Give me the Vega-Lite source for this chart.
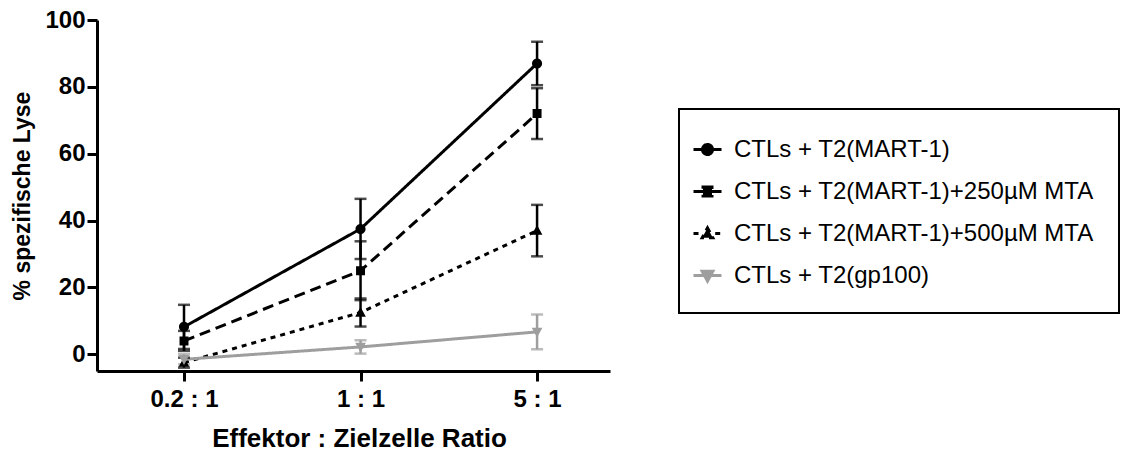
{
  "$schema": "https://vega.github.io/schema/vega-lite/v6.json",
  "width": 513,
  "height": 351,
  "autosize": {"type": "none"},
  "padding": {"left": 97, "top": 20, "right": 516, "bottom": 80},
  "background": "white",
  "config": {"view": {"stroke": null}, "font": "Liberation Sans", "legend": {"strokeWidth": 2}},
  "data": {
    "values": [
      {"ratio": "0.2 : 1", "series": "CTLs + T2(MART-1)", "lysis": 8.2, "sd": 6.6},
      {"ratio": "1 : 1", "series": "CTLs + T2(MART-1)", "lysis": 37.5, "sd": 9.0},
      {"ratio": "5 : 1", "series": "CTLs + T2(MART-1)", "lysis": 87.0, "sd": 6.5},
      {"ratio": "0.2 : 1", "series": "CTLs + T2(MART-1)+250µM MTA", "lysis": 4.0, "sd": 3.0},
      {"ratio": "1 : 1", "series": "CTLs + T2(MART-1)+250µM MTA", "lysis": 25.0, "sd": 8.8},
      {"ratio": "5 : 1", "series": "CTLs + T2(MART-1)+250µM MTA", "lysis": 72.0, "sd": 7.6},
      {"ratio": "0.2 : 1", "series": "CTLs + T2(MART-1)+500µM MTA", "lysis": -2.5, "sd": 1.5},
      {"ratio": "1 : 1", "series": "CTLs + T2(MART-1)+500µM MTA", "lysis": 12.5, "sd": 4.2},
      {"ratio": "5 : 1", "series": "CTLs + T2(MART-1)+500µM MTA", "lysis": 37.0, "sd": 7.7},
      {"ratio": "0.2 : 1", "series": "CTLs + T2(gp100)", "lysis": -1.5, "sd": 1.5},
      {"ratio": "1 : 1", "series": "CTLs + T2(gp100)", "lysis": 2.2, "sd": 2.0},
      {"ratio": "5 : 1", "series": "CTLs + T2(gp100)", "lysis": 6.7, "sd": 5.2}
    ]
  },
  "encoding": {
    "x": {
      "field": "ratio",
      "type": "nominal",
      "scale": {"type": "point", "domain": ["0.2 : 1", "1 : 1", "5 : 1"], "padding": 0.453, "align": 0.544},
      "axis": {
        "title": "Effektor : Zielzelle Ratio",
        "titleX": 262,
        "labelAngle": 0,
        "grid": false,
        "domainWidth": 3,
        "domainColor": "black",
        "tickWidth": 3,
        "tickSize": 10,
        "tickColor": "black",
        "labelFont": "Liberation Sans",
        "labelFontSize": 24,
        "labelFontWeight": "bold",
        "labelColor": "black",
        "labelPadding": 6,
        "titleFont": "Liberation Sans",
        "titleFontSize": 26,
        "titleFontWeight": "bold",
        "titleColor": "black",
        "titlePadding": 14
      }
    },
    "y": {
      "field": "lysis",
      "type": "quantitative",
      "scale": {"domain": [-5, 100], "nice": false, "zero": false},
      "axis": {
        "title": "% spezifische Lyse",
        "values": [0, 20, 40, 60, 80, 100],
        "grid": false,
        "domainWidth": 3,
        "domainColor": "black",
        "tickWidth": 3,
        "tickSize": 10,
        "tickColor": "black",
        "labelFont": "Liberation Sans",
        "labelFontSize": 24,
        "labelFontWeight": "bold",
        "labelColor": "black",
        "labelPadding": 2,
        "titleFont": "Liberation Sans",
        "titleFontSize": 23,
        "titleFontWeight": "bold",
        "titleColor": "black",
        "titlePadding": 10
      }
    },
    "color": {
      "field": "series",
      "type": "nominal",
      "scale": {
        "domain": ["CTLs + T2(MART-1)", "CTLs + T2(MART-1)+250µM MTA", "CTLs + T2(MART-1)+500µM MTA", "CTLs + T2(gp100)"],
        "range": ["black", "black", "black", "#9e9e9e"]
      },
      "legend": {
        "title": null,
        "orient": "none",
        "legendX": 582,
        "legendY": 89,
        "strokeColor": "black",
        "padding": 25,
        "labelFont": "Liberation Sans",
        "labelFontSize": 24,
        "labelColor": "black",
        "labelLimit": 600,
        "symbolSize": 784,
        "symbolStrokeWidth": 3,
        "symbolOpacity": 1,
        "rowPadding": 14,
        "labelOffset": 11,
        "symbolOffset": -12
      }
    }
  },
  "layer": [
    {
      "mark": {"type": "line", "strokeWidth": 3},
      "encoding": {
        "strokeDash": {
          "field": "series",
          "type": "nominal",
          "scale": {
            "domain": ["CTLs + T2(MART-1)", "CTLs + T2(MART-1)+250µM MTA", "CTLs + T2(MART-1)+500µM MTA", "CTLs + T2(gp100)"],
            "range": [[1, 0], [11, 6], [5, 5], [1, 0]]
          },
          "legend": null
        }
      }
    },
    {
      "mark": {"type": "errorbar", "thickness": 2.5, "ticks": {"size": 12, "thickness": 2.5}},
      "encoding": {
        "yError": {"field": "sd"}
      }
    },
    {
      "mark": {"type": "point", "filled": true, "size": 784, "opacity": 1},
      "encoding": {
        "shape": {
          "field": "series",
          "type": "nominal",
          "scale": {
            "domain": ["CTLs + T2(MART-1)", "CTLs + T2(MART-1)+250µM MTA", "CTLs + T2(MART-1)+500µM MTA", "CTLs + T2(gp100)"],
            "range": [
              "M-1,0H1M0.36,0A0.36,0.36,0,1,1,-0.36,0A0.36,0.36,0,1,1,0.36,0Z",
              "M-1,0H1M-0.32,-0.32H0.32V0.32H-0.32Z",
              "M-1,0H-0.55M0.55,0H1M0,-0.4L0.38,0.3H-0.38Z",
              "M-1,0H1M0,0.4L0.38,-0.3H-0.38Z"
            ]
          },
          "legend": null
        }
      }
    }
  ]
}
